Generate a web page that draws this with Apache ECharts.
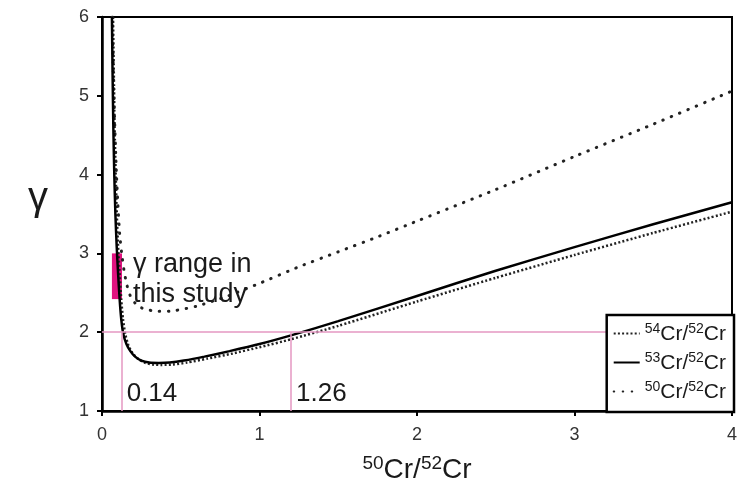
<!DOCTYPE html>
<html>
<head>
    <meta charset="utf-8">
    <title>gamma vs 50Cr/52Cr</title>
    <script src="https://cdn.jsdelivr.net/npm/echarts@6/dist/echarts.min.js"></script>
</head>
<body style="margin:0;">
    <div id="main" style="width: 740px;height:496px;"></div>
    <script type="text/javascript">
        // 横轴刻度 / 纵轴刻度
        var xTicks = [0, 1, 2, 3, 4];
        var yTicks = [1, 2, 3, 4, 5, 6];

        // 曲线 [50Cr/52Cr, gamma]
        var cr54 = [[0.070, 6.0], [0.075, 5.3], [0.080, 4.6], [0.087, 4.0], [0.094, 3.5], [0.102, 3.1],
            [0.112, 2.75], [0.122, 2.42], [0.133, 2.17], [0.147, 1.98], [0.168, 1.83], [0.195, 1.73],
            [0.23, 1.66], [0.27, 1.615], [0.32, 1.59], [0.38, 1.585], [0.45, 1.59], [0.54, 1.615],
            [0.67, 1.665], [0.83, 1.73], [1.0, 1.81], [1.2, 1.91], [1.5, 2.08], [2.0, 2.39],
            [2.5, 2.69], [3.0, 2.98], [3.5, 3.26], [4.0, 3.53]];
        var cr53 = [[0.063, 6.0], [0.067, 5.3], [0.072, 4.6], [0.078, 4.0], [0.085, 3.5], [0.093, 3.1],
            [0.102, 2.75], [0.112, 2.42], [0.122, 2.17], [0.135, 1.98], [0.155, 1.85], [0.18, 1.76],
            [0.21, 1.69], [0.25, 1.64], [0.30, 1.615], [0.36, 1.61], [0.43, 1.615], [0.52, 1.64],
            [0.65, 1.69], [0.81, 1.76], [1.0, 1.85], [1.2, 1.96], [1.5, 2.14], [2.0, 2.46],
            [2.5, 2.78], [3.0, 3.08], [3.5, 3.37], [4.0, 3.65]];
        var cr50 = [[0.065, 6.0], [0.072, 5.3], [0.080, 4.7], [0.090, 4.1], [0.100, 3.65], [0.112, 3.25],
            [0.125, 3.0], [0.140, 2.78], [0.158, 2.6], [0.18, 2.46], [0.21, 2.37], [0.25, 2.31],
            [0.30, 2.28], [0.36, 2.265], [0.45, 2.27], [0.60, 2.33], [0.80, 2.46], [1.0, 2.62],
            [1.25, 2.83], [1.5, 3.02], [1.75, 3.21], [2.0, 3.41], [2.5, 3.81], [3.0, 4.23],
            [3.5, 4.64], [4.0, 5.06]];

        // 标注
        var gammaLevel = 2;
        var crossX = [0.125, 1.2];
        var crossLabels = ['0.14', '1.26'];
        var rangeX = [0.063, 0.127];
        var gammaRange = [2.42, 3.0];

        var names = ['54Cr/52Cr', '53Cr/52Cr', '50Cr/52Cr'];

        var font = 'Liberation Sans, Arial, sans-serif';
        var pink = '#e597c2';

        var myChart = echarts.init(document.getElementById('main'));

        var supRich = function (base, sup) {
            return {
                s: { fontSize: sup, fontFamily: font, color: '#1a1a1a', verticalAlign: 'top', lineHeight: sup },
                n: { fontSize: base, fontFamily: font, color: '#1a1a1a', verticalAlign: 'bottom', lineHeight: base + 2 }
            };
        };

        var option = {
            animation: false,
            grid: {
                left: 102, right: 7, top: 17, bottom: 85,
                show: true, borderColor: '#000', borderWidth: 2
            },
            legend: {
                data: names,
                orient: 'vertical',
                right: 6,
                bottom: 84,
                padding: [7, 8, 9, 6],
                itemWidth: 26,
                itemHeight: 14,
                itemGap: 6,
                itemTextGap: 4,
                borderColor: '#000',
                borderWidth: 2.5,
                backgroundColor: '#fff',
                z: 10,
                itemStyle: { color: 'rgba(0,0,0,0)', borderWidth: 0 },
                formatter: function (name) {
                    return '{s|' + name.slice(0, 2) + '}{n|Cr/}{s|52}{n|Cr}';
                },
                textStyle: { lineHeight: 22, rich: supRich(21, 14) }
            },
            xAxis: {
                type: 'value',
                min: xTicks[0],
                max: xTicks[xTicks.length - 1],
                interval: 1,
                name: '{s|50}{n|Cr/}{s|52}{n|Cr}',
                nameLocation: 'middle',
                nameGap: 43,
                nameTextStyle: { rich: supRich(28, 19) },
                axisLine: { lineStyle: { color: '#000', width: 2.5 } },
                axisTick: { length: 5, lineStyle: { color: '#000', width: 2 } },
                axisLabel: { fontSize: 18, fontFamily: font, color: '#333', margin: 15 },
                splitLine: { show: false }
            },
            yAxis: {
                type: 'value',
                min: yTicks[0],
                max: yTicks[yTicks.length - 1],
                interval: 1,
                name: 'γ',
                nameLocation: 'middle',
                nameRotate: 0,
                nameGap: 54,
                nameTextStyle: { fontSize: 40, fontFamily: font, color: '#1a1a1a', verticalAlign: 'bottom', lineHeight: 30 },
                axisLine: { lineStyle: { color: '#000', width: 2.5 } },
                axisTick: { length: 5, lineStyle: { color: '#000', width: 2 } },
                axisLabel: { fontSize: 18, fontFamily: font, color: '#333', margin: 13 },
                splitLine: { show: false }
            },
            series: [{
                name: names[0],
                type: 'line',
                data: cr54,
                symbol: 'none',
                smooth: 0.2,
                lineStyle: { color: '#222', width: 2.5, type: [2, 2.2] },
                itemStyle: { color: '#222' },
                z: 3
            }, {
                name: names[1],
                type: 'line',
                data: cr53,
                symbol: 'none',
                smooth: 0.2,
                lineStyle: { color: '#000', width: 2.5 },
                itemStyle: { color: '#000' },
                z: 4,
                markLine: {
                    silent: true,
                    symbol: 'none',
                    label: { show: false },
                    lineStyle: { color: pink, width: 1.5, type: 'solid' },
                    data: [
                        [{ coord: [xTicks[0], gammaLevel] }, { coord: [xTicks[xTicks.length - 1], gammaLevel] }],
                        [{ coord: [crossX[0], yTicks[0]] }, { coord: [crossX[0], gammaLevel] }],
                        [{ coord: [crossX[1], yTicks[0]] }, { coord: [crossX[1], gammaLevel] }]
                    ]
                }
            }, {
                name: names[2],
                type: 'line',
                data: cr50,
                symbol: 'none',
                smooth: 0.2,
                lineStyle: { color: '#222', width: 3, type: [0.5, 8.5], cap: 'round' },
                itemStyle: { color: '#222' },
                z: 3
            }, {
                name: 'annot',
                type: 'line',
                data: [],
                z: 6,
                markArea: {
                    silent: true,
                    itemStyle: { color: '#e0137f', opacity: 1 },
                    data: [[{ coord: [rangeX[0], gammaRange[0]] }, { coord: [rangeX[1], gammaRange[1]] }]]
                },
                markPoint: {
                    silent: true,
                    symbol: 'circle',
                    symbolSize: 0,
                    itemStyle: { color: 'rgba(0,0,0,0)' },
                    label: {
                        show: true,
                        position: 'right',
                        fontFamily: font,
                        color: '#1a1a1a'
                    },
                    data: [
                        { coord: [crossX[0], 1.215], label: { formatter: crossLabels[0], fontSize: 26, distance: 5 } },
                        { coord: [crossX[1], 1.215], label: { formatter: crossLabels[1], fontSize: 26, distance: 5 } },
                        {
                            coord: [rangeX[1], (gammaRange[0] + gammaRange[1]) / 2 - 0.04],
                            label: { formatter: 'γ range in\nthis study', fontSize: 27, lineHeight: 30, distance: 11 }
                        }
                    ]
                }
            }]
        };

        myChart.setOption(option);
    </script>
</body>
</html>
